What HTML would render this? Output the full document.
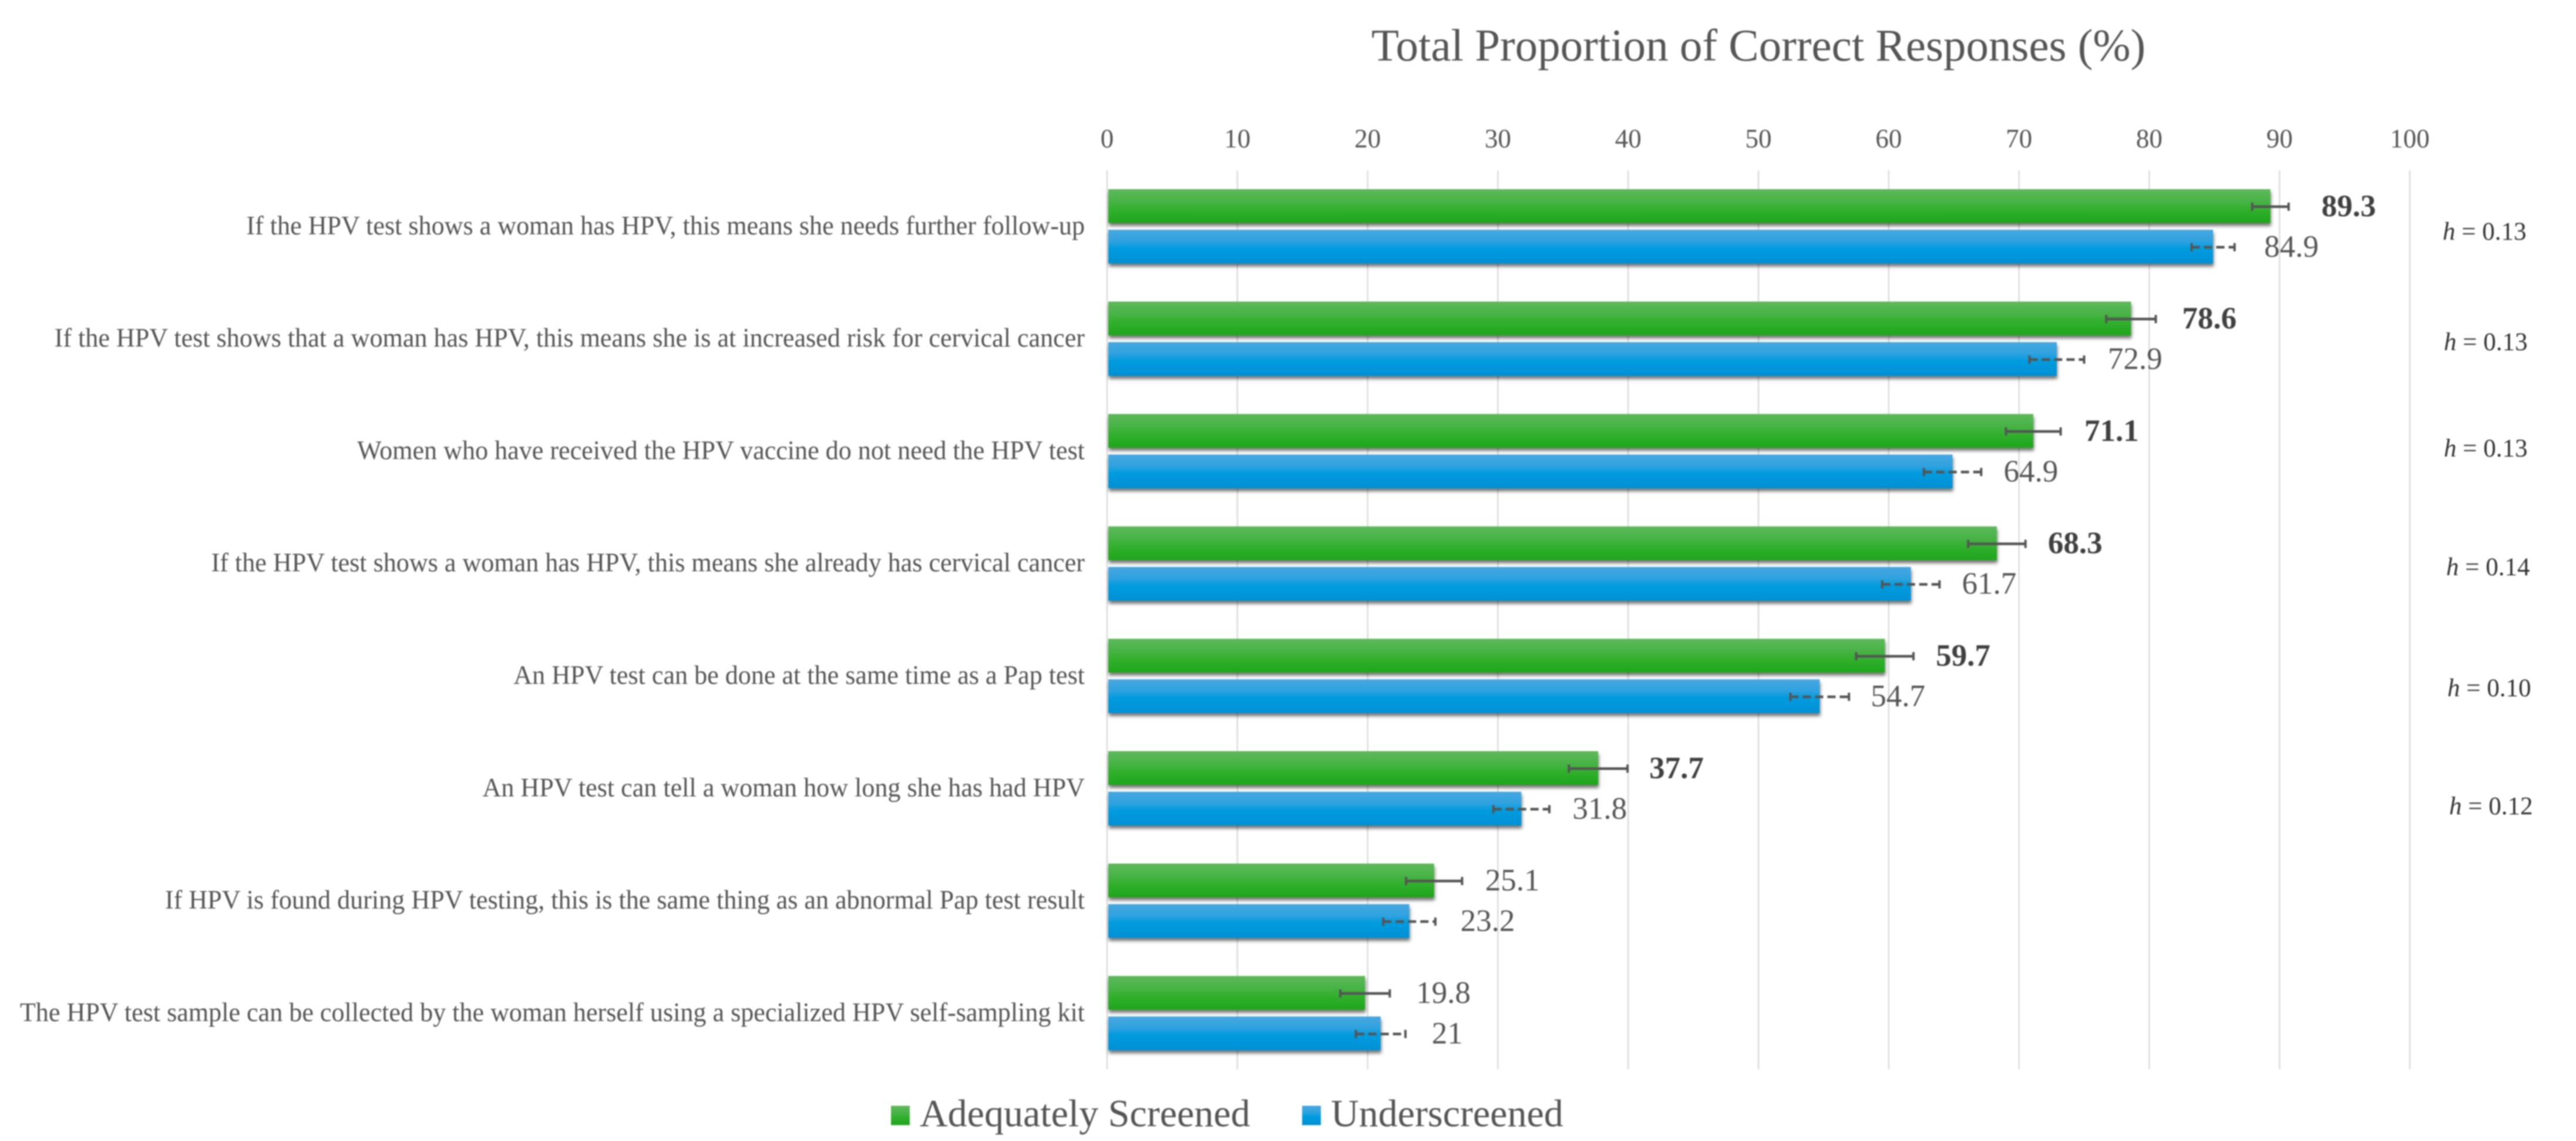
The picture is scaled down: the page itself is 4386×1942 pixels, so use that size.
<!DOCTYPE html>
<html lang="en">
<head>
<meta charset="utf-8">
<title>Total Proportion of Correct Responses</title>
<style>
html,body{margin:0;padding:0;background:#fff;width:4386px;height:1942px;overflow:hidden}
svg{display:block;filter:blur(1px)}
text{font-family:"Liberation Serif",serif}
</style>
</head>
<body>
<svg id="chart" xmlns="http://www.w3.org/2000/svg" width="4386" height="1942" viewBox="0 0 4386 1942">
<defs>
<linearGradient id="gGreen" x1="0" y1="0" x2="0" y2="1">
<stop offset="0" stop-color="#5eb95b"/><stop offset=".35" stop-color="#49b347"/><stop offset=".62" stop-color="#30b02c"/><stop offset="1" stop-color="#1fa51c"/>
</linearGradient>
<linearGradient id="gBlue" x1="0" y1="0" x2="0" y2="1">
<stop offset="0" stop-color="#48a7e0"/><stop offset=".35" stop-color="#2ea2df"/><stop offset=".55" stop-color="#009cdf"/><stop offset="1" stop-color="#0090d4"/>
</linearGradient>
<filter id="barShadow" x="-2%" y="-10%" width="104%" height="140%">
<feDropShadow dx="1" dy="5" stdDeviation="3" flood-color="#000" flood-opacity=".55"/>
</filter>
</defs>
<text x="2994" y="103" font-size="77" fill="#555" text-anchor="middle">Total Proportion of Correct Responses (%)</text>
<g id="grid"></g>
<g id="ticks"></g>
<g id="categories"></g>
<g id="bars"></g>
<g id="errors"></g>
<g id="values"></g>
<g font-size="43" fill="#333">
<text x="4159" y="408"><tspan font-style="italic">h</tspan> = 0.13</text>
<text x="4161" y="596"><tspan font-style="italic">h</tspan> = 0.13</text>
<text x="4161" y="777"><tspan font-style="italic">h</tspan> = 0.13</text>
<text x="4165" y="979"><tspan font-style="italic">h</tspan> = 0.14</text>
<text x="4167" y="1185"><tspan font-style="italic">h</tspan> = 0.10</text>
<text x="4170" y="1386"><tspan font-style="italic">h</tspan> = 0.12</text>
</g>
<g>
<rect x="1517" y="1882" width="32" height="33" fill="url(#gGreen)"/>
<text x="1566" y="1917" font-size="66" fill="#555">Adequately Screened</text>
<rect x="2217" y="1882" width="32" height="33" fill="url(#gBlue)"/>
<text x="2266" y="1917" font-size="66" fill="#555">Underscreened</text>
</g>
</svg>
<script>
const categories = [
  "If the HPV test shows a woman has HPV, this means she needs further follow-up",
  "If the HPV test shows that a woman has HPV, this means she is at increased risk for cervical cancer",
  "Women who have received the HPV vaccine do not need the HPV test",
  "If the HPV test shows a woman has HPV, this means she already has cervical cancer",
  "An HPV test can be done at the same time as a Pap test",
  "An HPV test can tell a woman how long she has had HPV",
  "If HPV is found during HPV testing, this is the same thing as an abnormal Pap test result",
  "The HPV test sample can be collected by the woman herself using a specialized HPV self-sampling kit"
];
const adequatelyScreened = [89.3, 78.6, 71.1, 68.3, 59.7, 37.7, 25.1, 19.8];
const underscreened = [84.9, 72.9, 64.9, 61.7, 54.7, 31.8, 23.2, 21];
const adequatelyError = [1.4, 1.9, 2.1, 2.2, 2.2, 2.25, 2.15, 1.9];
const underscreenedError = [1.65, 2.1, 2.2, 2.2, 2.25, 2.15, 2.0, 1.9];
const significant = [true, true, true, true, true, true, false, false];
const tickValues = [0, 10, 20, 30, 40, 50, 60, 70, 80, 90, 100];

const SVGNS = "http://www.w3.org/2000/svg";
const xOrigin = 1885, xPerUnit = 22.18;
const firstGreenTop = 322, groupStep = 191.3, barH = 57.5, barGap = 11.5;
function xScale(v) { return xOrigin + v * xPerUnit; }
function greenTop(i) { return firstGreenTop + i * groupStep; }
function blueTop(i) { return greenTop(i) + barH + barGap; }
function make(tag, parent, attrs, txt) {
  const el = document.createElementNS(SVGNS, tag);
  for (const k in attrs) el.setAttribute(k, attrs[k]);
  if (txt !== undefined) el.textContent = txt;
  parent.appendChild(el);
  return el;
}
const gGrid = document.getElementById("grid");
const gTicks = document.getElementById("ticks");
const gCats = document.getElementById("categories");
const gBars = document.getElementById("bars");
const gErr = document.getElementById("errors");
const gVals = document.getElementById("values");

tickValues.forEach(function (t) {
  const line = make("line", gGrid, { x1: xScale(t), x2: xScale(t), y1: 290, y2: 1820, stroke: "#dcdcdc", "stroke-width": 2.5 });
  
  
  const label = make("text", gTicks, { x: xScale(t), y: 251, "font-size": 45, fill: "#555", "text-anchor": "middle" }, String(t));
  
  
});

categories.forEach(function (c, i) {
  const center = (greenTop(i) + blueTop(i) + barH) / 2;
  const label = make("text", gCats, { transform: "translate(1847," + (center + 13.5) + ") scale(.98,1)", "font-size": 45, fill: "#555", "text-anchor": "end" }, c);
  
  
});

function drawSeries(values, errs, topFn, fill, seriesName, dashed) {
  values.forEach(function (v, i) {
    const y = topFn(i), xe = xScale(v), cy = y + barH / 2;
    const bar = make("rect", gBars, { x: xOrigin + 2, y: y, width: xe - xOrigin - 2, height: barH, fill: fill, filter: "url(#barShadow)" });
    
    

    const x0 = xScale(v - errs[i]), x1 = xScale(v + errs[i]);
    const eg = make("g", gErr, { stroke: "#555", fill: "none" });
    
    
    const stem = { x1: x0, x2: x1, y1: cy + 1, y2: cy + 1, "stroke-width": 4.5 };
    if (dashed) stem["stroke-dasharray"] = "14 7";
    make("line", eg, stem);
    make("line", eg, { x1: x0, x2: x0, y1: cy - 6, y2: cy + 8, "stroke-width": 4 });
    make("line", eg, { x1: x1, x2: x1, y1: cy - 6, y2: cy + 8, "stroke-width": 4 });

    const bold = seriesName === "adequately-screened" && significant[i];
    const val = make("text", gVals, { x: xe + 87, y: cy + 17, "font-size": 53, fill: bold ? "#404040" : "#555", "font-weight": bold ? "bold" : "normal" }, String(v));
    
    
  });
}
drawSeries(adequatelyScreened, adequatelyError, greenTop, "url(#gGreen)", "adequately-screened", false);
drawSeries(underscreened, underscreenedError, blueTop, "url(#gBlue)", "underscreened", true);
</script>
</body>
</html>
